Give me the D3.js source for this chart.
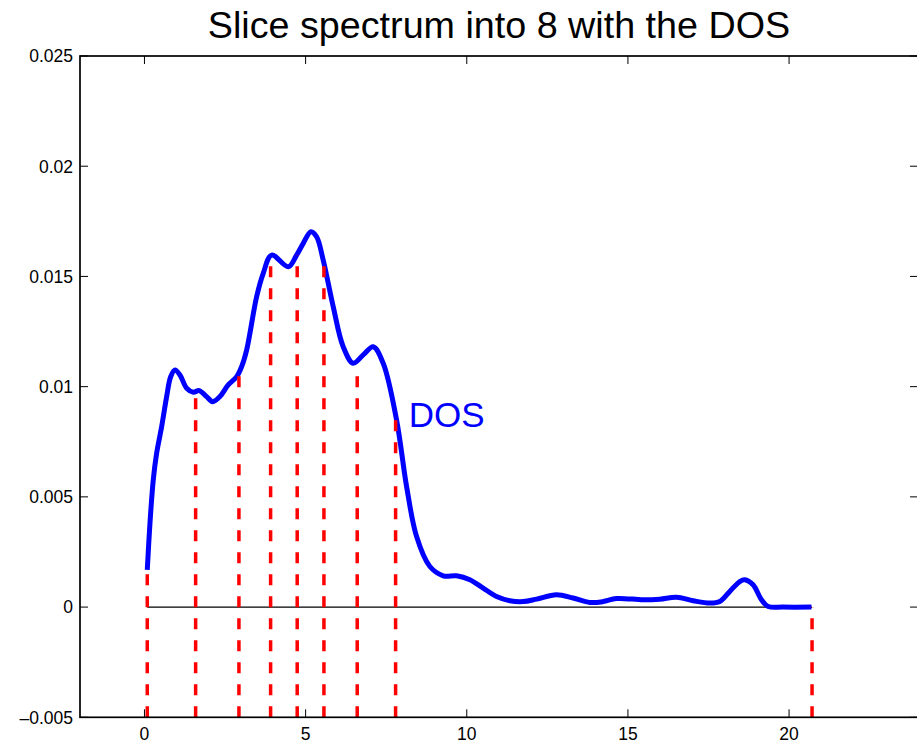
<!DOCTYPE html>
<html>
<head>
<meta charset="utf-8">
<script src="https://cdn.jsdelivr.net/npm/d3@7"></script>
<style>
  body { margin: 0; background: #fff; }
  svg { display: block; font-family: "Liberation Sans", Arial, Helvetica, sans-serif; }
</style>
</head>
<body>
<svg id="chart" width="917" height="744"></svg>
<script>
// DOS curve (energy, density)
const dosE = [
  0.087, 0.171, 0.273, 0.378, 0.534, 0.689, 0.813, 0.946, 1.101, 1.309,
  1.514, 1.700, 1.929, 2.115, 2.342, 2.599, 2.860, 3.015, 3.170, 3.480,
  3.685, 3.945, 4.460, 4.721, 4.926, 5.164, 5.341, 5.546, 5.856, 6.166,
  6.476, 6.787, 7.097, 7.407, 7.822, 8.133, 8.443, 8.855, 9.268,
  9.684, 10.096, 10.509, 10.924, 11.337, 11.749, 12.165, 12.785, 13.300, 13.818,
  14.231, 14.646, 15.471, 15.989, 16.507, 17.022, 17.540, 17.850, 18.160, 18.470,
  18.625, 18.883, 19.144, 19.349, 19.814, 20.695
];
const dosVal = [
  0.00169, 0.00381, 0.00577, 0.00698, 0.00819, 0.00955, 0.01045, 0.01076, 0.01053, 0.00993,
  0.00975, 0.00982, 0.00955, 0.00932, 0.00955, 0.01008, 0.01045, 0.01091, 0.01166, 0.01408,
  0.01514, 0.01597, 0.01544, 0.01597, 0.01650, 0.01703, 0.01680, 0.01574, 0.01363, 0.01181,
  0.01106, 0.01144, 0.01181, 0.01106, 0.00849, 0.00547, 0.00320, 0.00184, 0.00142,
  0.00142, 0.00124, 0.00086, 0.00048, 0.00029, 0.00025, 0.00036, 0.00056, 0.00041, 0.00021,
  0.00025, 0.00039, 0.00033, 0.00036, 0.00045, 0.00029, 0.00018, 0.00025, 0.00071, 0.00116,
  0.00124, 0.00101, 0.00033, 0.00003, 0.0, 0.0
];

// slice boundaries and the DOS height at each
const sliceE = [0.087, 1.588, 2.931, 3.914, 4.739, 5.568, 6.601, 7.792, 20.713];
const sliceTop = [0.00161, 0.00977, 0.01083, 0.01589, 0.01597, 0.01574, 0.01083, 0.00872, 0];

const xTicks = [0, 5, 10, 15, 20];
const yTicks = [-0.005, 0, 0.005, 0.01, 0.015, 0.02, 0.025];
const yTickLabels = ["\u20130.005", "0", "0.005", "0.01", "0.015", "0.02", "0.025"];

const titleText = "Slice spectrum into 8 with the DOS";
const dosLabel = { text: "DOS", x: 8.2, y: 0.00817 };

const box = { left: 80, right: 918, top: 56, bottom: 717.3 };
const svg = d3.select("#chart");

const x = d3.scaleLinear().domain([-2, 24]).range([box.left, box.right]);
const y = d3.scaleLinear().domain([-0.005, 0.025]).range([box.bottom, box.top]);

//zero baseline
svg.append("line")
    .attr("x1", x(sliceE[0])).attr("x2", x(sliceE[sliceE.length - 1]))
    .attr("y1", y(0)).attr("y2", y(0))
    .attr("stroke", "#000").attr("stroke-width", 1.2);

//dos curve
const pts = dosE.map((e, i) => [e, dosVal[i]]);
const line = d3.line()
    .x(d => x(d[0]))
    .y(d => y(d[1]))
    .curve(d3.curveCatmullRom.alpha(0.5));

svg.append("path")
    .attr("d", line(pts))
    .attr("fill", "none")
    .attr("stroke", "#0000ff")
    .attr("stroke-width", 5)
    .attr("stroke-linejoin", "round");

//slice lines, drawn upward from the bottom axis
svg.selectAll("line.slice")
  .data(sliceE).enter()
    .append("line")
    .classed("slice", true)
    .attr("x1", d => x(d)).attr("x2", d => x(d))
    .attr("y1", y(-0.005)).attr("y2", (d, i) => y(sliceTop[i]))
    .attr("stroke", "#ff0000")
    .attr("stroke-width", 3.5)
    .attr("stroke-dasharray", "11,11");

//axes box
svg.append("rect")
    .attr("x", box.left).attr("y", box.top)
    .attr("width", box.right - box.left).attr("height", box.bottom - box.top)
    .attr("fill", "none").attr("stroke", "#000").attr("stroke-width", 1.7);

const tickLen = 8;
const tk = svg.append("g").attr("stroke", "#000").attr("stroke-width", 1);
xTicks.forEach(t => {
    tk.append("line").attr("x1", x(t)).attr("x2", x(t)).attr("y1", box.bottom).attr("y2", box.bottom - tickLen);
    tk.append("line").attr("x1", x(t)).attr("x2", x(t)).attr("y1", box.top).attr("y2", box.top + tickLen);
});
yTicks.forEach(t => {
    tk.append("line").attr("x1", box.left).attr("x2", box.left + tickLen).attr("y1", y(t)).attr("y2", y(t));
    tk.append("line").attr("x1", box.right).attr("x2", box.right - tickLen).attr("y1", y(t)).attr("y2", y(t));
});

svg.selectAll("text.xtick")
  .data(xTicks).enter()
    .append("text")
    .attr("x", d => x(d))
    .attr("y", 740)
    .attr("text-anchor", "middle")
    .style("font-size", "17.5px")
    .text(d => d);

svg.selectAll("text.ytick")
  .data(yTicks).enter()
    .append("text")
    .attr("x", 73)
    .attr("y", d => y(d) + 6.3)
    .attr("text-anchor", "end")
    .style("font-size", "17.5px")
    .text((d, i) => yTickLabels[i]);

svg.append("text")
    .attr("x", (box.left + box.right) / 2)
    .attr("y", 38)
    .attr("text-anchor", "middle")
    .style("font-size", "37.7px")
    .text(titleText);

svg.append("text")
    .attr("x", x(dosLabel.x))
    .attr("y", y(dosLabel.y))
    .attr("fill", "#0000ff")
    .style("font-size", "35px")
    .text(dosLabel.text);
</script>
</body>
</html>
